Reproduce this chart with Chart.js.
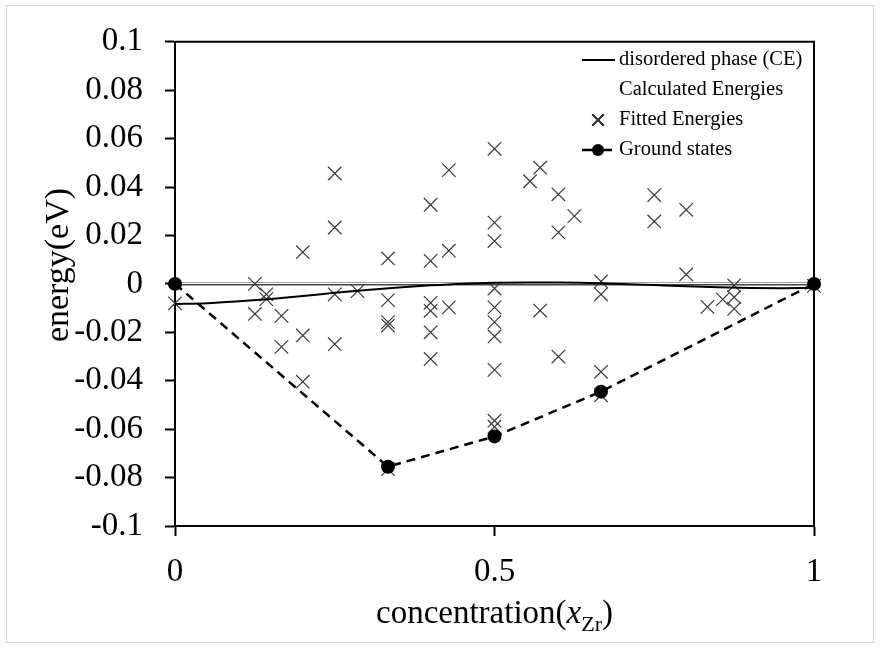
<!DOCTYPE html>
<html>
<head>
<meta charset="utf-8">
<script src="https://cdn.jsdelivr.net/npm/chart.js@4.4.1/dist/chart.umd.min.js"></script>
<style>
  html, body { margin: 0; padding: 0; background: #fff; }
  #wrap { width: 880px; height: 648px; }
</style>
</head>
<body>
<div id="wrap"><canvas id="energyChart" width="880" height="648"></canvas></div>
<script>
// axis ticks
const xTicks = [0, 0.5, 1];
const yTicks = [0.1, 0.08, 0.06, 0.04, 0.02, 0, -0.02, -0.04, -0.06, -0.08, -0.1];

// disordered phase, cluster expansion curve
const ceX = [0, 0.05, 0.1, 0.15, 0.2, 0.25, 0.3, 0.35, 0.4, 0.45, 0.5,
             0.55, 0.6, 0.65, 0.7, 0.75, 0.8, 0.85, 0.9, 0.95, 1];
const ceE = [-0.0083, -0.0080, -0.0072, -0.0062, -0.0050, -0.0037, -0.0025, -0.0015, -0.0006, 0.0001, 0.0005,
             0.0006, 0.0006, 0.0004, 0.0000, -0.0005, -0.0010, -0.0014, -0.0017, -0.0018, -0.0017];

// fitted energies of the enumerated structures
const fitX = [0,
  1/8, 1/8,
  1/7, 1/7,
  1/6, 1/6,
  1/5, 1/5, 1/5,
  1/4, 1/4, 1/4, 1/4,
  2/7,
  1/3, 1/3, 1/3, 1/3, 1/3,
  2/5, 2/5, 2/5, 2/5, 2/5, 2/5,
  3/7, 3/7, 3/7,
  1/2, 1/2, 1/2, 1/2, 1/2, 1/2, 1/2, 1/2, 1/2, 1/2,
  5/9,
  4/7, 4/7,
  3/5, 3/5, 3/5,
  5/8,
  2/3, 2/3, 2/3, 2/3,
  3/4, 3/4,
  4/5, 4/5,
  5/6,
  6/7,
  7/8, 7/8, 7/8,
  1];
const fitE = [-0.008,
  0.000, -0.0124,
  -0.0043, -0.0063,
  -0.0132, -0.026,
  0.0131, -0.0213, -0.0404,
  0.0456, 0.0233, -0.0043, -0.0249,
  -0.003,
  0.0105, -0.0067, -0.0158, -0.0172, -0.0765,
  0.0327, 0.0095, -0.0078, -0.0111, -0.020, -0.031,
  0.047, 0.0137, -0.0097,
  0.0558, 0.0253, 0.0177, -0.0019, -0.0097, -0.0158, -0.0217, -0.0355, -0.0565, -0.059,
  0.0424,
  0.048, -0.011,
  0.037, 0.0213, -0.030,
  0.028,
  0.001, -0.0043, -0.0363, -0.046,
  0.0367, 0.0258,
  0.0306, 0.0039,
  -0.0095,
  -0.0064,
  -0.0006, -0.0055, -0.0103,
  -0.0008];

// ground states (convex hull)
const gsX = [0, 1/3, 1/2, 2/3, 1];
const gsE = [0, -0.0755, -0.063, -0.0445, 0];

const serif = "'Liberation Serif', 'Times New Roman', serif";
const pts = (xs, ys) => xs.map((x, i) => ({ x: x, y: ys[i] }));

// frame around the plot, the zero line, outer border and axis titles
const framePlugin = {
  id: "frame",
  beforeDatasetsDraw(chart) {
    const { ctx, chartArea: a, scales } = chart;
    const y0 = Math.round(scales.y.getPixelForValue(0));
    ctx.save();
    ctx.strokeStyle = "#444";
    ctx.lineWidth = 3;
    ctx.beginPath();
    ctx.moveTo(a.left, y0);
    ctx.lineTo(a.right, y0);
    ctx.stroke();
    ctx.strokeStyle = "#fff";
    ctx.lineWidth = 1;
    ctx.beginPath();
    ctx.moveTo(a.left, y0 - 0.5);
    ctx.lineTo(a.right, y0 - 0.5);
    ctx.stroke();

    ctx.strokeStyle = "#000";
    ctx.lineWidth = 2;
    ctx.beginPath();
    ctx.moveTo(a.left, a.top);
    ctx.lineTo(a.right, a.top);
    ctx.lineTo(a.right, a.bottom);
    ctx.stroke();

    ctx.strokeStyle = "#d9d9d9";
    ctx.lineWidth = 1;
    ctx.strokeRect(6.5, 5.5, 867, 637);
    ctx.restore();
  },
  afterDraw(chart) {
    const { ctx, chartArea: a } = chart;
    ctx.save();
    ctx.fillStyle = "#000";
    ctx.textBaseline = "alphabetic";

    // y title
    ctx.save();
    ctx.translate(68, 265);
    ctx.rotate(-Math.PI / 2);
    ctx.font = "34px " + serif;
    ctx.textAlign = "center";
    ctx.fillText("energy(eV)", 0, 0);
    ctx.restore();

    // x title with italic x and subscript Zr
    const parts = [
      { t: "concentration(", f: "33px " + serif, dy: 0 },
      { t: "x", f: "italic 33px " + serif, dy: 0 },
      { t: "Zr", f: "22px " + serif, dy: 8 },
      { t: ")", f: "33px " + serif, dy: 0 }
    ];
    let w = 0;
    parts.forEach(p => { ctx.font = p.f; p.w = ctx.measureText(p.t).width; w += p.w; });
    let x = (a.left + a.right) / 2 - w / 2;
    const base = 623;
    ctx.textAlign = "left";
    parts.forEach(p => { ctx.font = p.f; ctx.fillText(p.t, x, base + p.dy); x += p.w; });

    // legend
    const lx = 619, sx = 598;
    const rows = [60, 90, 120, 150];
    ctx.font = "20.5px " + serif;
    ctx.textBaseline = "middle";
    ["disordered phase (CE)", "Calculated Energies", "Fitted Energies", "Ground states"]
      .forEach((t, i) => ctx.fillText(t, lx, rows[i]));

    ctx.strokeStyle = "#000";
    ctx.lineWidth = 2;
    ctx.beginPath();
    ctx.moveTo(582, rows[0]);
    ctx.lineTo(615, rows[0]);
    ctx.stroke();

    Chart.helpers.drawPoint(ctx, { pointStyle: "crossRot", radius: 8, borderWidth: 1.2 }, sx, rows[2]);
    ctx.strokeStyle = "#3a3a3a";
    ctx.lineWidth = 1.2;
    ctx.stroke();

    ctx.strokeStyle = "#000";
    ctx.lineWidth = 2.5;
    ctx.beginPath();
    ctx.moveTo(582, rows[3]);
    ctx.lineTo(612, rows[3]);
    ctx.stroke();
    ctx.fillStyle = "#000";
    ctx.beginPath();
    ctx.arc(sx, rows[3], 6, 0, Math.PI * 2);
    ctx.fill();
    ctx.restore();
  }
};

new Chart(document.getElementById("energyChart"), {
  type: "scatter",
  data: {
    datasets: [
      {
        label: "Fitted Energies",
        data: pts(fitX, fitE),
        pointStyle: "crossRot",
        pointRadius: 9.5,
        borderColor: "#3a3a3a",
        borderWidth: 1.2,
        showLine: false,
        clip: false,
        order: 3
      },
      {
        label: "disordered phase (CE)",
        data: pts(ceX, ceE),
        showLine: true,
        borderColor: "#000",
        borderWidth: 2,
        pointRadius: 0,
        tension: 0.4,
        cubicInterpolationMode: "monotone",
        clip: false,
        order: 2
      },
      {
        label: "Ground states",
        data: pts(gsX, gsE),
        showLine: true,
        borderColor: "#000",
        borderWidth: 2.5,
        borderDash: [9, 6],
        pointRadius: 7,
        pointBackgroundColor: "#000",
        pointBorderColor: "#000",
        pointBorderWidth: 0,
        clip: false,
        order: 1
      }
    ]
  },
  options: {
    responsive: false,
    animation: false,
    devicePixelRatio: 1,
    layout: { padding: { left: 0, top: 33, right: 66, bottom: 0 } },
    plugins: { legend: { display: false }, tooltip: { enabled: false } },
    scales: {
      x: {
        type: "linear",
        min: 0,
        max: 1,
        afterBuildTicks: s => { s.ticks = xTicks.map(v => ({ value: v })); },
        afterFit: s => { s.height = 122; },
        border: { display: true, color: "#000", width: 2 },
        grid: { drawOnChartArea: false, drawTicks: true, tickLength: 10, tickColor: "#000", tickWidth: 2 },
        ticks: {
          color: "#000",
          padding: 17,
          font: { family: serif, size: 33 },
          callback: v => String(v)
        }
      },
      y: {
        min: -0.1,
        max: 0.1,
        afterBuildTicks: s => { s.ticks = yTicks.map(v => ({ value: v })); },
        afterFit: s => { s.width = 175; },
        border: { display: true, color: "#000", width: 2 },
        grid: { drawOnChartArea: false, drawTicks: true, tickLength: 10, tickColor: "#000", tickWidth: 2 },
        ticks: {
          color: "#000",
          padding: 22,
          font: { family: serif, size: 33 },
          callback: v => String(Number(v.toFixed(2)))
        }
      }
    }
  },
  plugins: [framePlugin]
});
</script>
</body>
</html>
